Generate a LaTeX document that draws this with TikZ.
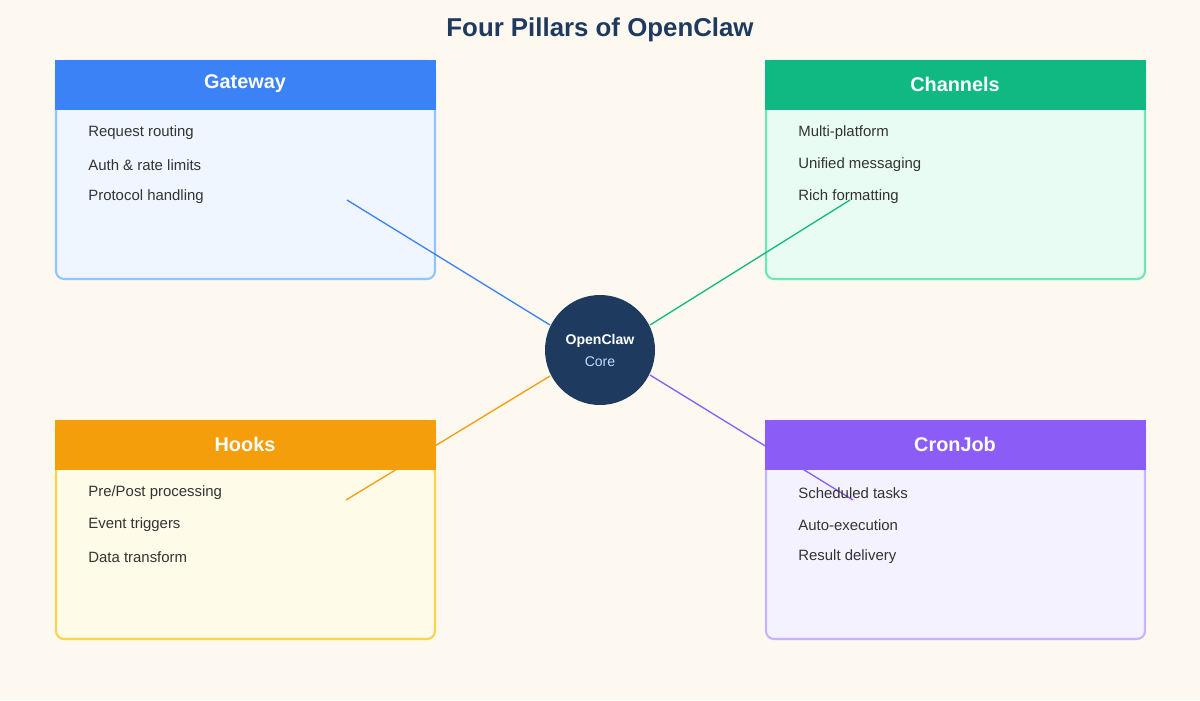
\documentclass[tikz,border=0pt]{standalone}
\usepackage{fontspec}
\setmainfont{Liberation Sans}
\definecolor{bg}{HTML}{FDF8F0}
\definecolor{navy}{HTML}{1E3A5F}
\definecolor{txt}{HTML}{333333}
\definecolor{gH}{HTML}{3B82F6}\definecolor{gB}{HTML}{EFF6FF}\definecolor{gE}{HTML}{93C5FD}
\definecolor{cH}{HTML}{10B981}\definecolor{cB}{HTML}{E9FCF3}\definecolor{cE}{HTML}{6EE7B7}
\definecolor{hH}{HTML}{F59E0B}\definecolor{hB}{HTML}{FEFBE8}\definecolor{hE}{HTML}{FCD34D}
\definecolor{rH}{HTML}{8B5CF6}\definecolor{rB}{HTML}{F4F2FF}\definecolor{rE}{HTML}{C4B5FD}
\definecolor{core}{HTML}{BFDBFE}
\begin{document}
\begin{tikzpicture}[x=0.02cm,y=-0.02cm,
  body/.style={rounded corners=8pt*0.567,line width=1.2pt},
  head/.style={text=white,font=\bfseries\fontsize{11.3}{13}\selectfont},
  item/.style={anchor=west,text=txt,font=\fontsize{8.5}{10}\selectfont,inner sep=0},
  link/.style={line width=0.75pt}]
\fill[bg] (0,0) rectangle (1200,700);
\node[text=navy,font=\bfseries\fontsize{14.7}{17}\selectfont] (title) at (600,30) {Four Pillars of OpenClaw};
% bodies
\draw[body,fill=gB,draw=gE] (56,61) rectangle (435,279);
\draw[body,fill=cB,draw=cE] (766,61) rectangle (1145,279);
\draw[body,fill=hB,draw=hE] (56,421) rectangle (435,639);
\draw[body,fill=rB,draw=rE] (766,421) rectangle (1145,639);
% center and link endpoints
\node[circle,fill=navy,minimum size=110*0.02cm,inner sep=0] (c) at (600,350) {};
\coordinate (g) at (347,200);\coordinate (ch) at (850,200);
\coordinate (h) at (346,500);\coordinate (r) at (853,500);
\draw[link,gH] (g) -- (550,325);
\draw[link,cH] (ch) -- (650,325);
\draw[link,hH] (h) -- (550,376);
\draw[link,rH] (r) -- (650,375);
% headers
\fill[gH] (55,60) rectangle (436,110);
\fill[cH] (765,60) rectangle (1146,110);
\fill[hH] (55,420) rectangle (436,470);
\fill[rH] (765,420) rectangle (1146,470);
\node[head] (gt) at (245,84) {Gateway};
\node[head] (ct) at (955,84) {Channels};
\node[head] (ht) at (245,444) {Hooks};
\node[head] (rt) at (955,444) {CronJob};
\node[text=white,font=\bfseries\fontsize{8}{9}\selectfont] (c1) at (600,341) {OpenClaw};
\node[text=core,font=\fontsize{8}{9}\selectfont] (c2) at (600,362) {Core};
% items
\node[item] (g1) at (88,133) {Request routing};
\node[item] (g2) at (88,165) {Auth \& rate limits};
\node[item] (g3) at (88,197) {Protocol handling};
\node[item] (c1i) at (798,133) {Multi-platform};
\node[item] (c2i) at (798,165) {Unified messaging};
\node[item] (c3i) at (798,197) {Rich formatting};
\node[item] (h1) at (88,493) {Pre/Post processing};
\node[item] (h2) at (88,525) {Event triggers};
\node[item] (h3) at (88,557) {Data transform};
\node[item] (r1) at (798,493) {Scheduled tasks};
\node[item] (r2) at (798,525) {Auto-execution};
\node[item] (r3) at (798,557) {Result delivery};
\end{tikzpicture}
\end{document}
